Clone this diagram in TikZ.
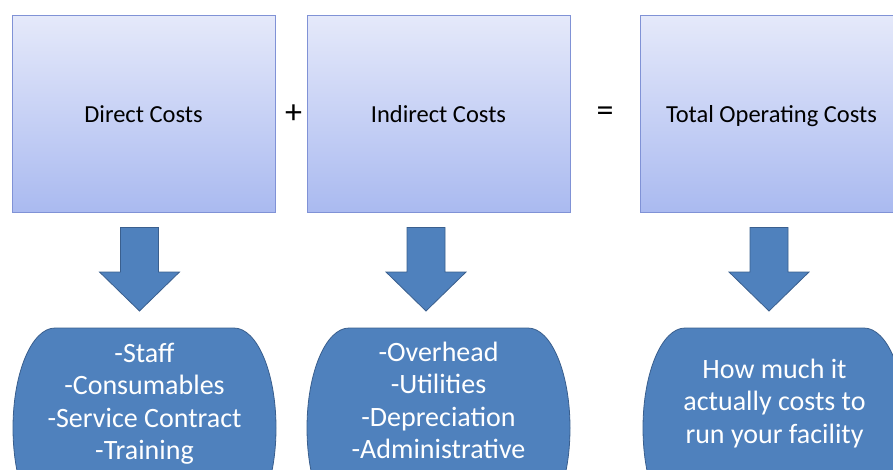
\documentclass[tikz,border=0pt]{standalone}
\usepackage{fontspec}
\setmainfont{Carlito}
\usepackage{tikz}
\usetikzlibrary{calc}
\definecolor{boxtop}{RGB}{229,233,250}
\definecolor{boxbottom}{RGB}{170,186,240}
\definecolor{boxline}{RGB}{128,146,214}
\definecolor{arrowfill}{RGB}{79,129,189}
\definecolor{arrowline}{RGB}{58,95,142}

\begin{document}
\begin{tikzpicture}[
    x=1pt, y=-1pt,
    every node/.style={font=\fontsize{24.5}{29}\selectfont},
    costbox/.style={draw=boxline, line width=1pt, top color=boxtop,
                    bottom color=boxbottom, minimum width=263pt,
                    minimum height=197pt, inner sep=0pt,
                    text height=20pt, text depth=2pt},
    operator/.style={font=\fontsize{34}{40}\selectfont},
    listtext/.style={text=white, align=center,
                     font=\fontsize{28}{32.5}\selectfont},
    blockarrow/.style={fill=arrowfill, draw=arrowline, line width=0.8pt},
]
    \useasboundingbox (0,0) rectangle (893,469);
    \clip (0,0) rectangle (893,469);

    % top row: the three cost boxes and the operators between them
    \node[costbox] (direct)   at (143.5,113.5) {Direct Costs};
    \node[costbox] (indirect) at (438.5,113.5) {Indirect Costs};
    \node[costbox] (total)    at (771.5,113.5) {Total Operating Costs};
    \node[operator] (plus)   at (293.5,114) {+};
    \node[operator] (equals) at (605,114) {=};

    % bottom row: terminator shapes with elliptic ends, cut off by the page
    \newcommand{\termshape}[4]{%
        \coordinate (#1top) at (#2,328);
        \draw[blockarrow] ($(#1top)+(-89.5,0)$) -- ($(#1top)+(89.5,0)$)
            arc[start angle=90, end angle=-90, x radius=42pt, y radius=100pt]
            -- ++(-179,0)
            arc[start angle=270, end angle=90, x radius=42pt, y radius=100pt]
            -- cycle;
        \node[listtext] (#1) at (#2,#3) {#4};
    }
    % fat down arrow from a cost box to the shape below it
    \newcommand{\costarrow}[3]{%
        \draw[blockarrow] let \p1=($(#1.south)+(#3,15)$),
                              \p2=($(#2top)+(#3,-17)$) in
            (\x1-19pt,\y1) -- (\x1+19pt,\y1) -- (\x1+19pt,\y2+39pt)
            -- (\x1+40pt,\y2+39pt) -- (\x1,\y2) -- (\x1-40pt,\y2+39pt)
            -- (\x1-19pt,\y2+39pt) -- cycle;
    }

    \termshape{directlist}{144.5}{403.5}{-Staff\\-Consumables\\-Service Contract\\-Training}
    \termshape{indirectlist}{438.5}{400.5}{-Overhead\\-Utilities\\-Depreciation\\-Administrative}
    \termshape{totallist}{774.5}{403.5}{How much it\\actually costs to\\run your facility}

    \costarrow{direct}{directlist}{-4}
    \costarrow{indirect}{indirectlist}{-12.5}
    \costarrow{total}{totallist}{-2.5}
\end{tikzpicture}
\end{document}
